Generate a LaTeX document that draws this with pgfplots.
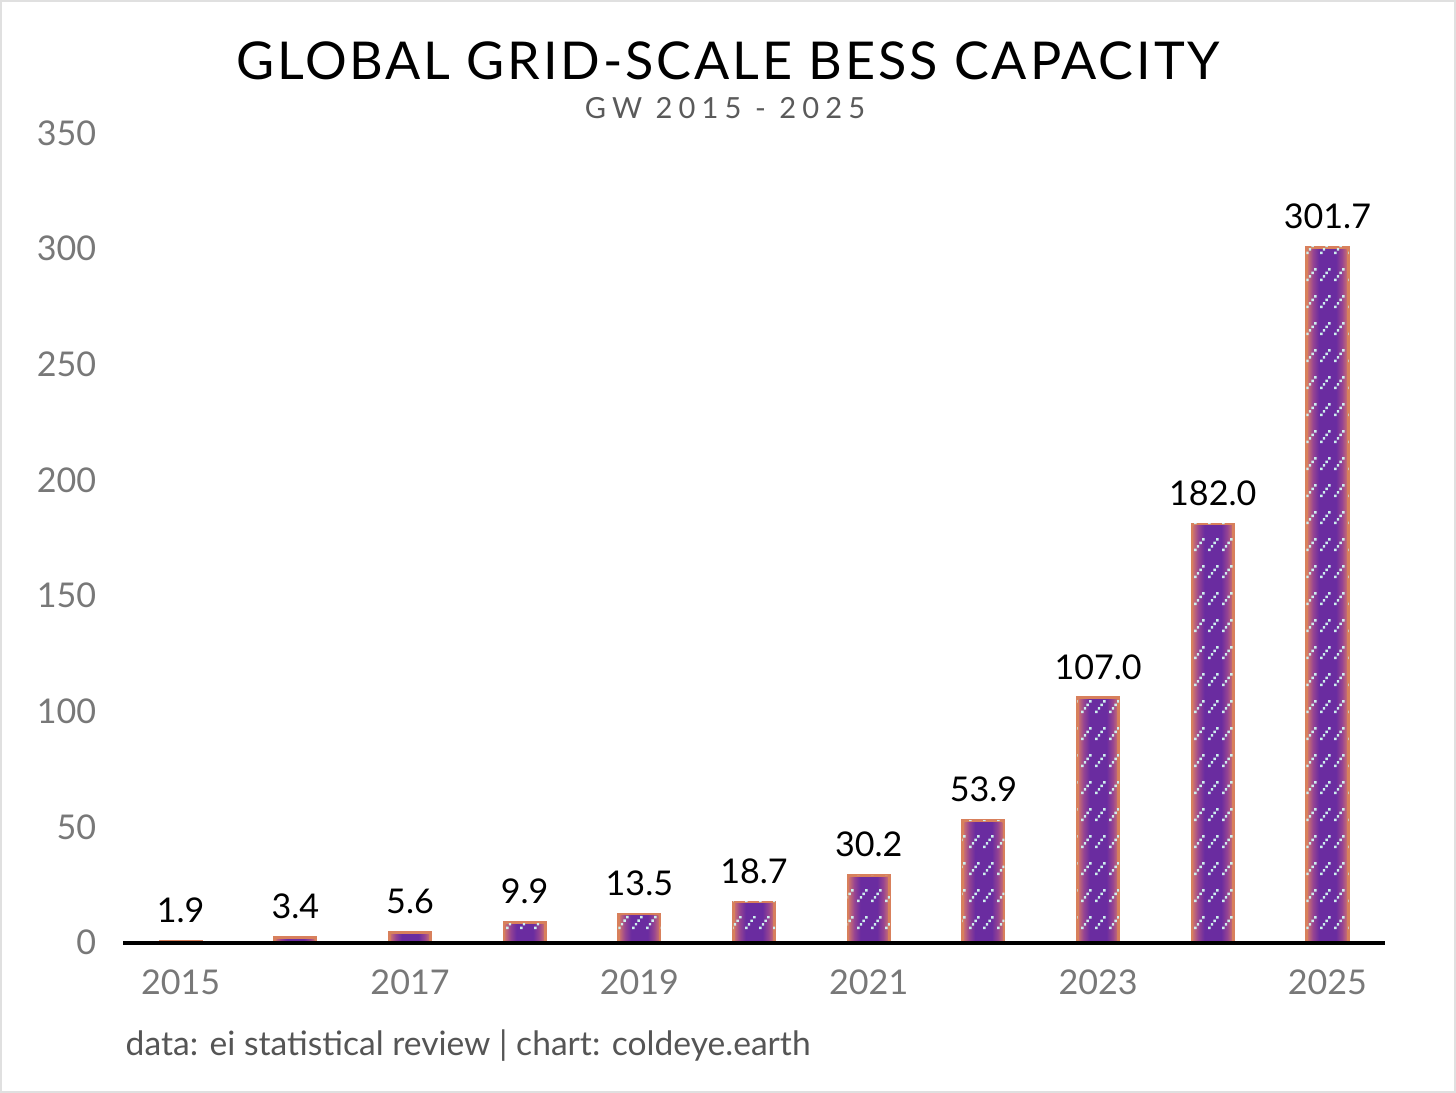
\documentclass[border=0pt]{standalone}
\usepackage{pgfplots}
\pgfplotsset{compat=1.18}
\usepackage{fontspec}
\setmainfont{Lato}
\usetikzlibrary{patterns}
\definecolor{barorange}{RGB}{216,128,92}
\definecolor{barpurple}{RGB}{106,44,160}
\definecolor{mixa}{RGB}{196,106,116}
\definecolor{mixb}{RGB}{150,68,146}
\definecolor{patcol}{RGB}{205,240,238}
\definecolor{tickgray}{RGB}{120,120,120}
\definecolor{footgray}{RGB}{85,85,85}
\definecolor{subgray}{RGB}{90,90,90}
\pgfdeclarehorizontalshading{barshade}{100bp}{color(0bp)=(mixa); color(25bp)=(mixa); color(31bp)=(mixb); color(39bp)=(barpurple); color(61bp)=(barpurple); color(69bp)=(mixb); color(75bp)=(mixa); color(100bp)=(mixa)}
\pgfdeclarepatternformonly{dotdiag}{\pgfqpoint{0pt}{0pt}}{\pgfqpoint{7pt}{13.5pt}}{\pgfqpoint{7pt}{13.5pt}}{
  \pgfpathrectangle{\pgfqpoint{0.6pt}{1pt}}{\pgfqpoint{1.25pt}{1.25pt}}
  \pgfpathrectangle{\pgfqpoint{2.0pt}{2.8pt}}{\pgfqpoint{1.25pt}{1.25pt}}
  \pgfpathrectangle{\pgfqpoint{3.4pt}{4.6pt}}{\pgfqpoint{1.25pt}{1.25pt}}
  \pgfpathrectangle{\pgfqpoint{4.8pt}{6.4pt}}{\pgfqpoint{1.25pt}{1.25pt}}
  \pgfusepath{fill}}
\pgfplotsset{
  outerbar/.style={ybar, bar width=22pt, bar shift=0pt, draw=none, fill=barorange, yshift=-0.7pt,
    nodes near coords,
    nodes near coords style={font=\fontsize{17}{20}\selectfont, color=black, yshift=5pt,
      /pgf/number format/fixed, /pgf/number format/fixed zerofill, /pgf/number format/precision=1}},
  innerbar/.style={ybar, bar width=19pt, bar shift=0pt, draw=none, shading=barshade, yshift=-2.2pt},
  patbar/.style={ybar, bar width=21pt, bar shift=0pt, draw=none, yshift=-1.2pt,
    pattern=dotdiag, pattern color=patcol},
}
\newcommand\bessbar[2]{%
  \addplot[outerbar] coordinates {(#1,#2)};
  \addplot[innerbar] coordinates {(#1,#2)};
  \addplot[patbar] coordinates {(#1,#2)};
}
\begin{document}
\begin{tikzpicture}[x=1pt,y=1pt]
\draw[color=black!12, line width=1pt] (1.5,1.5) rectangle (726.5,545.5);
\node[font=\fontsize{26}{30}\selectfont\addfontfeature{LetterSpace=5.5}] at (364,515.5) {GLOBAL GRID-SCALE BESS CAPACITY};
\node[font=\fontsize{14.5}{17}\selectfont\addfontfeature{LetterSpace=21}, color=subgray] at (362.5,492) {GW 2015 - 2025};
\node[font=\fontsize{16.75}{20}\selectfont, color=footgray, anchor=west, inner sep=0pt] at (63.5,24.5) {data: ei statistical review | chart: coldeye.earth};
\begin{axis}[
  at={(62.5pt,76pt)}, anchor=south west,
  scale only axis, width=629pt, height=403.75pt,
  xmin=2014.5, xmax=2025.5, ymin=0, ymax=350,
  clip=false,
  separate axis lines,
  axis x line=bottom, axis y line=left,
  x axis line style={line width=2pt,-},
  y axis line style={draw=none},
  major tick length=0pt,
  xtick={2015,2017,...,2025},
  ytick={0,50,...,350},
  /pgf/number format/assume math mode=true,
  /pgf/number format/1000 sep={},
  ticklabel style={font=\fontsize{17}{20}\selectfont, color=tickgray},
  yticklabel style={xshift=-10pt},
  xticklabel style={yshift=-10pt},
]
\bessbar{2015}{1.9}
\bessbar{2016}{3.4}
\bessbar{2017}{5.6}
\bessbar{2018}{9.9}
\bessbar{2019}{13.5}
\bessbar{2020}{18.7}
\bessbar{2021}{30.2}
\bessbar{2022}{53.9}
\bessbar{2023}{107.0}
\bessbar{2024}{182.0}
\bessbar{2025}{301.7}
\fill[white] ([yshift=-5pt]axis cs:2014.5,0) rectangle ([yshift=-0.9pt]axis cs:2025.5,0);
\draw[line width=2pt] (axis cs:2014.5,0) -- (axis cs:2025.5,0);
\end{axis}
\end{tikzpicture}
\end{document}
